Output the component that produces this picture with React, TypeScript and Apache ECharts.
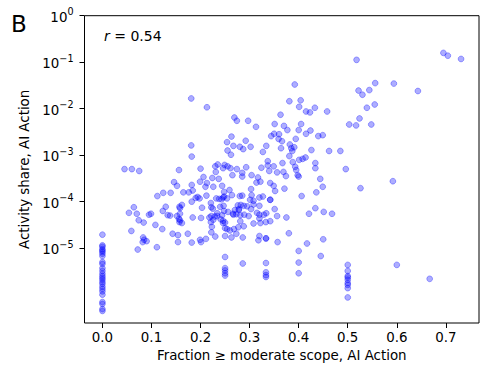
import React, { useEffect, useRef } from "react";
import * as echarts from "echarts";

// x: fraction of tasks with >= moderate scope (AI Action)
// y: log10 of activity share (AI Action)
const xTickValues = [0, 0.1, 0.2, 0.3, 0.4, 0.5, 0.6, 0.7];
const yTickExponents = [-5, -4, -3, -2, -1, 0];
const yTickSuperscripts = ["−5", "−4", "−3", "−2", "−1", "0"];

const xTitle = "Fraction ≥ moderate scope, AI Action";
const yTitle = "Activity share, AI Action";
const panelLetter = "B";
const correlation = "0.54";

// log10 activity share of occupations at fixed fractions
const zeroScopeLogShare = [-4.71, -4.94, -4.97, -5.02, -5.05, -5.08, -5.12, -5.17, -5.3, -5.34, -5.43, -5.49, -5.55, -5.6, -5.64, -5.68, -5.73, -5.77, -5.83, -5.88, -5.93, -6.0, -6.16, -6.2, -6.31, -6.35];
const quarterScopeLogShare = [-5.19, -5.43, -5.48, -5.54, -5.59];
const thirdScopeLogShare = [-5.32, -5.52, -5.58, -5.62, -4.79, -4.79];
const twoFifthsScopeLogShare = [-5.06, -5.31, -5.54];
const halfScopeLogShare = [-5.36, -5.49, -5.6, -5.63, -5.68, -5.75, -5.79, -5.86, -6.06];

// [fraction, log10 activity share]
const highSharePoints: [number, number][] = [
  [0.181, -1.78], [0.213, -1.97], [0.181, -2.79], [0.392, -1.48], [0.381, -1.84], [0.404, -1.82], [0.401, -1.96], [0.415, -2.06], [0.423, -2.08], [0.433, -1.98], [0.458, -2.06],
  [0.269, -2.19], [0.274, -2.26], [0.297, -2.26], [0.313, -2.39], [0.363, -2.13], [0.351, -2.33], [0.37, -2.37], [0.377, -2.46], [0.405, -2.33], [0.4, -2.46], [0.424, -2.47], [0.415, -2.54], [0.44, -2.59], [0.449, -2.57],
  [0.35, -2.54], [0.36, -2.55], [0.344, -2.59], [0.359, -2.65], [0.366, -2.7], [0.394, -2.65],
  [0.263, -2.6], [0.254, -2.72], [0.292, -2.69], [0.267, -2.8], [0.28, -2.82], [0.287, -2.87], [0.302, -2.82], [0.334, -2.8], [0.327, -2.93], [0.364, -2.85], [0.382, -2.77], [0.385, -2.85], [0.391, -2.83], [0.387, -2.91], [0.426, -2.89], [0.462, -2.91], [0.485, -2.91], [0.255, -2.9], [0.262, -2.99],
  [0.503, -2.34], [0.518, -0.95], [0.695, -0.8], [0.704, -0.86], [0.731, -0.93], [0.556, -1.45], [0.594, -1.46], [0.643, -1.62], [0.522, -1.61], [0.53, -1.7], [0.544, -1.6], [0.555, -1.91], [0.539, -1.98], [0.524, -2.21], [0.517, -2.36], [0.548, -2.34],
];
const midSharePoints: [number, number][] = [
  [0.182, -3.03], [0.045, -3.3], [0.06, -3.3], [0.075, -3.34], [0.156, -3.32], [0.2, -3.29], [0.23, -3.24], [0.235, -3.2], [0.206, -3.47], [0.224, -3.49], [0.231, -3.36], [0.246, -3.28], [0.249, -3.21], [0.255, -3.24], [0.261, -3.28], [0.146, -3.58], [0.152, -3.66],
  [0.381, -3.02], [0.401, -3.1], [0.408, -3.08], [0.414, -3.05], [0.388, -3.15], [0.367, -3.17], [0.434, -3.17], [0.434, -3.28], [0.496, -3.3],
  [0.337, -3.13], [0.337, -3.22], [0.324, -3.27], [0.349, -3.24], [0.293, -3.26], [0.274, -3.3], [0.34, -3.34], [0.356, -3.37], [0.369, -3.36], [0.393, -3.25], [0.395, -3.32], [0.398, -3.43], [0.4, -3.46], [0.374, -3.45], [0.285, -3.38], [0.304, -3.43], [0.317, -3.48], [0.265, -3.43], [0.285, -3.46], [0.444, -3.51],
  [0.592, -3.56], [0.526, -3.71],
  [0.112, -3.88], [0.124, -3.81], [0.139, -3.81], [0.165, -3.8], [0.176, -3.8], [0.182, -3.64], [0.184, -3.76], [0.199, -3.57], [0.226, -3.68], [0.237, -3.51], [0.213, -3.6], [0.21, -3.68], [0.19, -3.92], [0.194, -3.9], [0.198, -3.93], [0.212, -3.87], [0.238, -3.94], [0.243, -3.95], [0.248, -3.89], [0.232, -3.93], [0.264, -3.86], [0.28, -3.88], [0.301, -3.96], [0.248, -3.79], [0.259, -3.75],
  [0.244, -3.66], [0.246, -3.91], [0.254, -3.93], [0.285, -3.87], [0.308, -3.98], [0.304, -3.86], [0.303, -3.73], [0.314, -3.59], [0.322, -3.57], [0.342, -3.6], [0.349, -3.66], [0.352, -3.77], [0.371, -3.72], [0.32, -3.91], [0.327, -3.89], [0.342, -3.96], [0.342, -3.96], [0.406, -3.88], [0.436, -3.8], [0.449, -3.68],
];
const lowSharePoints: [number, number][] = [
  [0.182, -4.0], [0.157, -4.11], [0.162, -4.07], [0.203, -4.13], [0.222, -4.12], [0.247, -4.09], [0.282, -4.07], [0.295, -4.1], [0.278, -4.18], [0.266, -4.26], [0.27, -4.18],
  [0.129, -4.11], [0.123, -4.2], [0.133, -4.29], [0.099, -4.26], [0.152, -4.31], [0.156, -4.37], [0.184, -4.34], [0.201, -4.35], [0.222, -4.31], [0.229, -4.32], [0.234, -4.31], [0.241, -4.38], [0.226, -4.39], [0.246, -4.46], [0.221, -4.44], [0.281, -4.42], [0.281, -4.29], [0.298, -4.31], [0.221, -4.03], [0.248, -4.2], [0.256, -4.22],
  [0.254, -4.59], [0.26, -4.62], [0.268, -4.59], [0.277, -4.55], [0.288, -4.53], [0.263, -4.77], [0.273, -4.69], [0.286, -4.77], [0.25, -4.74],
  [0.054, -4.24], [0.064, -4.12], [0.07, -4.26], [0.074, -4.4], [0.084, -4.45], [0.095, -4.28], [0.059, -4.63], [0.072, -5.03], [0.111, -4.98], [0.083, -4.77], [0.085, -4.82], [0.09, -4.85], [0.082, -4.87], [0.108, -4.5], [0.122, -4.59],
  [0.138, -4.3], [0.143, -4.69], [0.154, -4.72], [0.154, -4.87], [0.157, -4.44], [0.162, -4.46], [0.158, -4.4], [0.158, -4.14], [0.174, -4.69], [0.182, -4.88], [0.199, -4.82], [0.201, -4.87], [0.211, -4.8], [0.222, -4.66], [0.223, -4.54], [0.218, -4.34], [0.225, -4.15], [0.234, -4.25], [0.23, -4.75], [0.158, -4.26],
  [0.24, -4.11], [0.244, -4.29], [0.246, -4.41], [0.25, -4.45], [0.25, -4.57],
  [0.267, -4.28], [0.273, -4.27], [0.289, -4.28], [0.276, -4.08], [0.278, -4.16], [0.288, -4.09], [0.303, -4.16], [0.32, -4.09], [0.315, -4.24], [0.32, -4.28], [0.308, -4.47], [0.322, -4.46], [0.333, -4.44], [0.342, -4.42], [0.334, -4.25], [0.329, -4.28], [0.351, -4.16], [0.356, -4.31], [0.375, -4.34],
  [0.421, -4.26], [0.434, -4.14], [0.451, -4.22], [0.468, -4.26], [0.417, -4.9], [0.45, -4.81], [0.445, -5.17], [0.38, -4.68], [0.357, -4.87], [0.32, -4.74], [0.318, -4.83], [0.286, -5.33], [0.308, -4.06], [0.32, -4.36],
  [0.6, -5.36], [0.667, -5.66],
];

const FONT = "DejaVu Sans";
const FS = 13.4;

export default function App() {
  const ref = useRef<HTMLDivElement>(null);

  useEffect(() => {
    if (!ref.current) return;
    const chart = echarts.init(ref.current, undefined, { renderer: "svg" });

    const column = (x: number, ys: number[]) => ys.map((y) => [x, y]);
    const data = [
      ...column(0, zeroScopeLogShare),
      ...column(0.25, quarterScopeLogShare),
      ...column(1 / 3, thirdScopeLogShare),
      ...column(0.4, twoFifthsScopeLogShare),
      ...column(0.5, halfScopeLogShare),
      ...highSharePoints,
      ...midSharePoints,
      ...lowSharePoints,
    ];

    const allX = data.map((d) => d[0]);
    const xMaxData = Math.max(...allX);
    const xPad = (xMaxData - 0) * 0.05;

    chart.setOption({
      animation: false,
      backgroundColor: "#ffffff",
      textStyle: { fontFamily: FONT },
      grid: {
        left: 84.5,
        right: 9,
        top: 15.7,
        bottom: 51,
        show: true,
        borderColor: "#000",
        borderWidth: 1,
        backgroundColor: "transparent",
      },
      xAxis: {
        type: "value",
        min: -xPad,
        max: xMaxData + xPad,
        name: xTitle,
        nameLocation: "middle",
        nameGap: 26,
        nameTextStyle: { fontSize: FS, color: "#000", fontFamily: FONT },
        axisLine: { show: false, onZero: false },
        axisTick: {
          show: true,
          length: 5,
          lineStyle: { color: "#000", width: 1 },
          customValues: xTickValues,
        },
        axisLabel: {
          fontSize: FS,
          color: "#000",
          fontFamily: FONT,
          margin: 8,
          customValues: xTickValues,
          formatter: (v: number) => v.toFixed(1),
        },
        splitLine: { show: false },
      },
      yAxis: {
        type: "value",
        min: -6.61,
        max: 0,
        name: yTitle,
        nameLocation: "middle",
        nameGap: 46,
        nameTextStyle: { fontSize: FS, color: "#000", fontFamily: FONT },
        axisLine: { show: false, onZero: false },
        axisTick: {
          show: true,
          length: 5,
          lineStyle: { color: "#000", width: 1 },
          customValues: yTickExponents,
        },
        axisLabel: {
          color: "#000",
          fontFamily: FONT,
          fontSize: FS,
          margin: 11,
          customValues: yTickExponents,
          formatter: (v: number) => {
            const i = yTickExponents.indexOf(Math.round(v));
            return i >= 0 ? "{b|10}{s|" + yTickSuperscripts[i] + "}" : "";
          },
          rich: {
            b: { fontSize: FS, fontFamily: FONT, color: "#000", lineHeight: 18, padding: [3, 0, 0, 0] },
            s: { fontSize: 9.6, fontFamily: FONT, color: "#000", lineHeight: 11, verticalAlign: "top" },
          },
        },
        splitLine: { show: false },
      },
      graphic: [
        {
          type: "text",
          x: 11,
          y: 24,
          style: {
            text: panelLetter,
            fontSize: 23,
            fontFamily: FONT,
            fill: "#000",
            align: "left",
            verticalAlign: "middle",
          },
        },
        {
          type: "text",
          x: 104,
          y: 36,
          style: {
            text: "{i|r} = " + correlation,
            rich: { i: { fontStyle: "italic", fontSize: 14, fontFamily: FONT } },
            fontSize: 14,
            fontFamily: FONT,
            fill: "#000",
            align: "left",
            verticalAlign: "middle",
          },
        },
      ],
      series: [
        {
          type: "scatter",
          data,
          symbol: "circle",
          symbolSize: 5.8,
          itemStyle: {
            color: "rgba(0,0,255,0.4)",
            borderColor: "rgba(0,0,255,0.4)",
            borderWidth: 1,
          },
          emphasis: { disabled: true },
        },
      ],
    });

    return () => chart.dispose();
  }, []);

  return (
    <div
      ref={ref}
      style={{ position: "fixed", left: 0, top: 0, width: 488, height: 374 }}
    />
  );
}
